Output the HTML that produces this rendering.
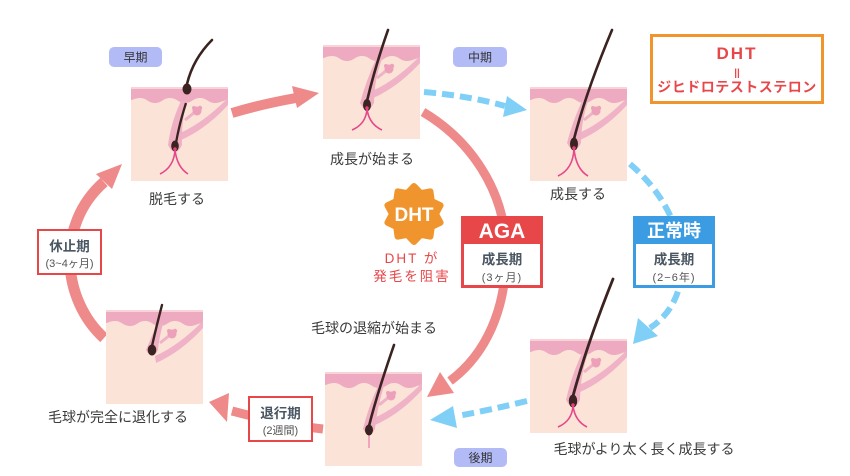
<!DOCTYPE html>
<html><head><meta charset="utf-8">
<style>
html,body{margin:0;padding:0;background:#fff;width:850px;height:476px;overflow:hidden}
svg{display:block}
text{font-family:"Liberation Sans","Noto Sans CJK JP",sans-serif}
.lbl{font-size:14px;fill:#3b3b3b;text-anchor:middle}
.bdg{font-size:12px;fill:#333;text-anchor:middle}
.st{font-size:13.5px;font-weight:bold;fill:#4a5662;text-anchor:middle}
.sub{font-size:11px;fill:#555;text-anchor:middle}
</style></head>
<body>
<svg width="850" height="476" viewBox="0 0 850 476" xmlns="http://www.w3.org/2000/svg">
<defs>
  <g id="skin">
    <rect width="97" height="94" fill="#fbe4d7"/>
    <path d="M0,0H97V13C92,13 90,16 84,16C77,16 76,11 69,11C62,11 61,16 54,16C47,16 46,11 39,11C32,11 31,16 24,16C17,16 16,11 9,11C4,11 2,13 0,13Z" fill="#eeaac0"/>
    <rect width="97" height="2" fill="#f8d4d8"/>
    <path d="M49,46Q72,36 97,11L97,18Q75,42 50,53Z" fill="#efb2c6"/>
    <path d="M54,33L64,25" stroke="#efb2c6" stroke-width="3"/>
    <circle cx="66" cy="24" r="4.5" fill="#eda0ba"/>
    <circle cx="69" cy="21" r="2.2" fill="#eda0ba"/>
    <circle cx="63" cy="21" r="2" fill="#eda0ba"/>
  </g>
</defs>

<!-- ===== arrows ===== -->
<g fill="none" stroke-linecap="butt">
  <path d="M232,113Q262,104 296,98" stroke="#ee8a89" stroke-width="10"/>
  <path d="M423,112C470,140 505,190 506,250C507,310 485,355 450,381" stroke="#ee8a89" stroke-width="9"/>
  <path d="M104,338C62,300 55,225 104,182" stroke="#ee8a89" stroke-width="11"/>
  <path d="M323,429Q285,425 232,411" stroke="#ee8a89" stroke-width="9"/>
  <path d="M424,92Q470,96 505,106" stroke="#7fcff7" stroke-width="6" stroke-dasharray="12 6"/>
  <path d="M630,164C690,215 700,295 650,328" stroke="#7fcff7" stroke-width="6" stroke-dasharray="12 6"/>
  <path d="M527,401Q490,410 457,416" stroke="#7fcff7" stroke-width="6" stroke-dasharray="12 6"/>
</g>
<g>
  <polygon points="319,93 292,86 297,108" fill="#ee8a89"/>
  <polygon points="427,397 454,393 440,372" fill="#ee8a89"/>
  <polygon points="122,164 96,174 112,189" fill="#ee8a89"/>
  <polygon points="209,402 229,393 227,422" fill="#ee8a89"/>
  <polygon points="527,110 507,96 503,117" fill="#7fcff7"/>
  <polygon points="633,344 638,318 658,336" fill="#7fcff7"/>
  <polygon points="430,420 453,406 457,428" fill="#7fcff7"/>
</g>

<!-- ===== Box1 ===== -->
<g transform="translate(131,87)">
  <use href="#skin"/>
  <path d="M50,14L56,14Q50,35 51,58Q44,72 37,58Q40,35 50,14Z" fill="#f0b0c4"/>
  <path d="M55,16Q48,38 45,56" stroke="#3a2320" stroke-width="2.3" fill="none"/>
  <ellipse cx="44" cy="59" rx="3.8" ry="5.5" fill="#3a2320"/>
  <circle cx="44" cy="62" r="1.8" fill="#e8407a"/>
  <path d="M44,63Q43,80 29,87M44,63Q46,80 57,87" stroke="#e6478a" stroke-width="1.6" fill="none"/>
  <path d="M81,-47Q62,-28 56,-3" stroke="#3a2320" stroke-width="2.6" fill="none" stroke-linecap="round"/>
  <ellipse cx="56" cy="2" rx="4.5" ry="5.5" fill="#3a2320"/>
</g>

<!-- ===== Box2 ===== -->
<g transform="translate(323,45)">
  <use href="#skin"/>
  <path d="M53,14L59,14Q51,36 51,58Q44,72 37,58Q43,36 53,14Z" fill="#f0b0c4"/>
  <path d="M65,-15Q52,22 44,56" stroke="#3a2320" stroke-width="2.6" fill="none" stroke-linecap="round"/>
  <ellipse cx="44" cy="60" rx="4" ry="6" fill="#3a2320"/>
  <circle cx="44" cy="63" r="1.8" fill="#e8407a"/>
  <path d="M44,64Q43,79 29,85M44,64Q46,79 59,85" stroke="#e6478a" stroke-width="1.6" fill="none"/>
</g>

<!-- ===== Box3 ===== -->
<g transform="translate(530,87)">
  <use href="#skin"/>
  <path d="M52,14L58,14Q51,36 51,56Q44,70 37,56Q42,36 52,14Z" fill="#f0b0c4"/>
  <path d="M82,-57Q56,5 44,52" stroke="#3a2320" stroke-width="2.6" fill="none" stroke-linecap="round"/>
  <ellipse cx="44" cy="57" rx="4" ry="6.5" fill="#3a2320"/>
  <circle cx="44" cy="61" r="1.8" fill="#e8407a"/>
  <path d="M44,62Q43,82 28,89M44,62Q46,82 58,89" stroke="#e6478a" stroke-width="1.6" fill="none"/>
</g>

<!-- ===== Box6 ===== -->
<g transform="translate(530,339)">
  <use href="#skin"/>
  <path d="M52,14L58,14Q50,38 50,61Q43,75 36,61Q41,38 52,14Z" fill="#f0b0c4"/>
  <path d="M83,-60Q57,5 43,57" stroke="#3a2320" stroke-width="2.8" fill="none" stroke-linecap="round"/>
  <ellipse cx="43" cy="62" rx="4.2" ry="6.5" fill="#3a2320"/>
  <circle cx="43" cy="66" r="1.8" fill="#e8407a"/>
  <path d="M43,67Q42,82 28,88M43,67Q45,82 57,88" stroke="#e6478a" stroke-width="1.6" fill="none"/>
</g>

<!-- ===== Box5 ===== -->
<g transform="translate(325,372)">
  <use href="#skin"/>
  <path d="M53,14L59,14Q52,36 50,57Q44,68 38,57Q43,36 53,14Z" fill="#f0b0c4"/>
  <path d="M44,62L44,76" stroke="#f0a6bf" stroke-width="2" fill="none"/>
  <path d="M69,-27Q52,22 44,54" stroke="#3a2320" stroke-width="2.6" fill="none" stroke-linecap="round"/>
  <ellipse cx="44" cy="58" rx="4" ry="5.5" fill="#3a2320"/>
</g>

<!-- ===== Box4 ===== -->
<g transform="translate(106,310)">
  <use href="#skin"/>
  <path d="M51,14L57,14Q53,28 52,40Q46,52 40,40Q45,28 51,14Z" fill="#f0b0c4"/>
  <path d="M56,-5Q50,18 46,36" stroke="#3a2320" stroke-width="2.4" fill="none" stroke-linecap="round"/>
  <ellipse cx="46" cy="40" rx="4.3" ry="5.5" fill="#3a2320"/>
</g>

<!-- ===== labels ===== -->
<text class="lbl" x="177" y="204">脱毛する</text>
<text class="lbl" x="372" y="164">成長が始まる</text>
<text class="lbl" x="578" y="199">成長する</text>
<text class="lbl" x="374" y="333">毛球の退縮が始まる</text>
<text class="lbl" x="118" y="422">毛球が完全に退化する</text>
<text class="lbl" x="644" y="454">毛球がより太く長く成長する</text>

<rect x="109" y="47" width="53" height="20" rx="5" fill="#b3bbf7"/>
<text class="bdg" x="135.5" y="61.5">早期</text>
<rect x="453" y="47" width="54" height="20" rx="5" fill="#b3bbf7"/>
<text class="bdg" x="480" y="61.5">中期</text>
<rect x="454" y="448" width="53" height="19" rx="5" fill="#b3bbf7"/>
<text class="bdg" x="480.5" y="462">後期</text>

<rect x="651.5" y="35.5" width="171" height="67" fill="#fff" stroke="#f0952e" stroke-width="3"/>
<text x="737" y="59" text-anchor="middle" font-size="17" font-weight="bold" fill="#e8474a" letter-spacing="2">DHT</text>
<text x="737" y="76" text-anchor="middle" font-size="10" font-weight="bold" fill="#e8474a">||</text>
<text x="737" y="92" text-anchor="middle" font-size="14" font-weight="bold" fill="#e8474a" letter-spacing="0.5">ジヒドロテストステロン</text>

<!-- DHT burst -->
<g transform="translate(414,214)">
  <polygon fill="#f0952e" stroke="#f0952e" stroke-width="6" stroke-linejoin="round"
   points="0,-28 6.8,-20.92 16.46,-22.65 17.8,-12.93 26.63,-8.65 22,0 26.63,8.65 17.8,12.93 16.46,22.65 6.8,20.92 0,28 -6.8,20.92 -16.46,22.65 -17.8,12.93 -26.63,8.65 -22,0 -26.63,-8.65 -17.8,-12.93 -16.46,-22.65 -6.8,-20.92"/>
  <circle r="22" fill="#f0952e"/>
</g>
<text x="414" y="221" text-anchor="middle" font-size="19" font-weight="bold" fill="#fff">DHT</text>
<text x="412" y="263" text-anchor="middle" font-size="13.5" fill="#e8474a" letter-spacing="2">DHT が</text>
<text x="412" y="281" text-anchor="middle" font-size="13.5" fill="#e8474a" letter-spacing="2">発毛を阻害</text>

<rect x="461" y="216" width="82" height="72" fill="#e8474a"/>
<rect x="464" y="244" width="76" height="41" fill="#fff"/>
<text x="502" y="238" text-anchor="middle" font-size="21" font-weight="bold" fill="#fff">AGA</text>
<text class="st" x="502" y="264">成長期</text>
<text class="sub" x="502" y="281" letter-spacing="1">(3ヶ月)</text>

<rect x="633" y="216" width="82" height="72" fill="#3b9be3"/>
<rect x="636" y="244" width="76" height="41" fill="#fff"/>
<text x="674" y="237" text-anchor="middle" font-size="18" font-weight="bold" fill="#fff">正常時</text>
<text class="st" x="674" y="264">成長期</text>
<text class="sub" x="674" y="281" letter-spacing="1">(2−6年)</text>

<rect x="38" y="230" width="63" height="44" fill="#fff" stroke="#e8474a" stroke-width="2"/>
<text class="st" x="69.5" y="251">休止期</text>
<text class="sub" x="69.5" y="267">(3~4ヶ月)</text>

<rect x="249" y="397" width="63" height="44" fill="#fff" stroke="#e8474a" stroke-width="2"/>
<text class="st" x="280.5" y="418">退行期</text>
<text class="sub" x="280.5" y="434">(2週間)</text>
</svg>
</body></html>
